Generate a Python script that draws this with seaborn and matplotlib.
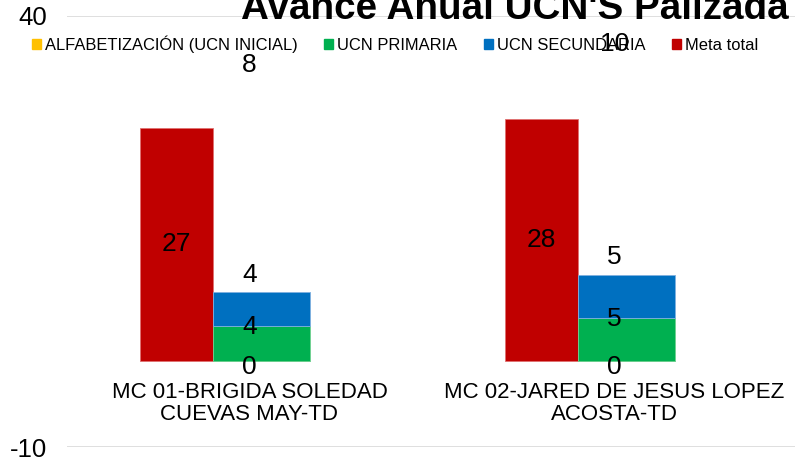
import matplotlib
matplotlib.use("Agg")
import matplotlib.pyplot as plt
from matplotlib.patches import Patch
import seaborn as sns
import numpy as np
import pandas as pd

# Data
categories = ["MC 01-BRIGIDA SOLEDAD\nCUEVAS MAY-TD", "MC 02-JARED DE JESUS LOPEZ\nACOSTA-TD"]
alfabetizacion = [0, 0]
primaria = [4, 5]
secundaria = [4, 5]
meta_total = [27, 28]
series_names = ["ALFABETIZACIÓN (UCN INICIAL)", "UCN PRIMARIA", "UCN SECUNDARIA", "Meta total"]
y_ticks = [-10, 40]

colors = {"ALFABETIZACIÓN (UCN INICIAL)": "#FFC000", "UCN PRIMARIA": "#00B050",
          "UCN SECUNDARIA": "#0070C0", "Meta total": "#C00000"}

sns.set_theme(style="white")
plt.rcParams["font.family"] = ["Liberation Sans", "DejaVu Sans"]
plt.rcParams["text.color"] = "black"
plt.rcParams["xtick.color"] = "black"
plt.rcParams["ytick.color"] = "black"

df = pd.DataFrame({"cat": categories, "alf": alfabetizacion, "pri": primaria,
                   "sec": secundaria, "meta": meta_total})

fig = plt.figure(figsize=(7.95, 4.65), dpi=100)
ax = fig.add_axes([67 / 795, 18 / 465, 730 / 795, 431 / 465])

x = np.arange(len(df))
red_left, red_right = -0.301, -0.101
stk_right = 0.165

# Meta total bars
ax.bar(x + red_left, df["meta"], width=red_right - red_left, align="edge",
       color=colors["Meta total"], edgecolor="#e07070", linewidth=0.6, zorder=3)
# stacked achievement bars
bottom = np.zeros(len(df))
for col, name in [("alf", series_names[0]), ("pri", series_names[1]), ("sec", series_names[2])]:
    ax.bar(x + red_right, df[col], width=stk_right - red_right, align="edge", bottom=bottom,
           color=colors[name], edgecolor="#7fb0e0" if col == "sec" else "#70d090",
           linewidth=0.6, zorder=3)
    bottom = bottom + df[col].values

lab_fs = 19
for i in range(len(df)):
    ax.text(x[i] + (red_left + red_right) / 2, df["meta"][i] / 2, f"{df['meta'][i]}",
            ha="center", va="center", fontsize=lab_fs, zorder=5)
    ax.text(x[i], df["alf"][i] - 0.7, f"{df['alf'][i]}", ha="center", va="center",
            fontsize=lab_fs, zorder=5)
    ax.text(x[i], df["alf"][i] + df["pri"][i] - 0.1, f"{df['pri'][i]}", ha="center",
            va="center", fontsize=lab_fs, zorder=5)
    top = df["alf"][i] + df["pri"][i] + df["sec"][i]
    ax.text(x[i], top + 2.0, f"{df['sec'][i]}", ha="center", va="center",
            fontsize=lab_fs, zorder=5)

# stack totals
total_label_y = [34.3, 36.7]
for i in range(len(df)):
    total = df["alf"][i] + df["pri"][i] + df["sec"][i]
    ax.text(x[i], total_label_y[i], f"{total}", ha="center", va="center",
            fontsize=lab_fs, zorder=5)

ax.set_ylim(-10, 40)
ax.set_xlim(-0.5, 1.5)
ax.set_yticks(y_ticks)
ax.set_yticklabels([str(v) for v in y_ticks], fontsize=18.5)
ax.yaxis.grid(True, color="#d9d9d9", linewidth=1.2, zorder=0)
ax.tick_params(axis="y", length=0, pad=14)

ax.spines["bottom"].set_position(("data", 0))
for s in ax.spines.values():
    s.set_visible(False)
ax.set_xticks(x)
ax.set_xticklabels(categories, fontsize=16, linespacing=1.05)
ax.tick_params(axis="x", length=0, pad=15.3)

# legend
handles = [Patch(color=colors[n]) for n in series_names]
fig.legend(handles, series_names, loc="center", bbox_to_anchor=(395 / 795, 1 - 44 / 465),
           ncol=4, frameon=False, fontsize=11.9, handlelength=0.55, handleheight=0.55,
           handletextpad=0.25, columnspacing=1.6)

fig.text(515 / 795, 1 - 19 / 465, "Avance Anual UCN'S Palizada", ha="center", va="baseline",
         fontsize=27.8, fontweight="bold")

fig.savefig("out.png", dpi=100)
